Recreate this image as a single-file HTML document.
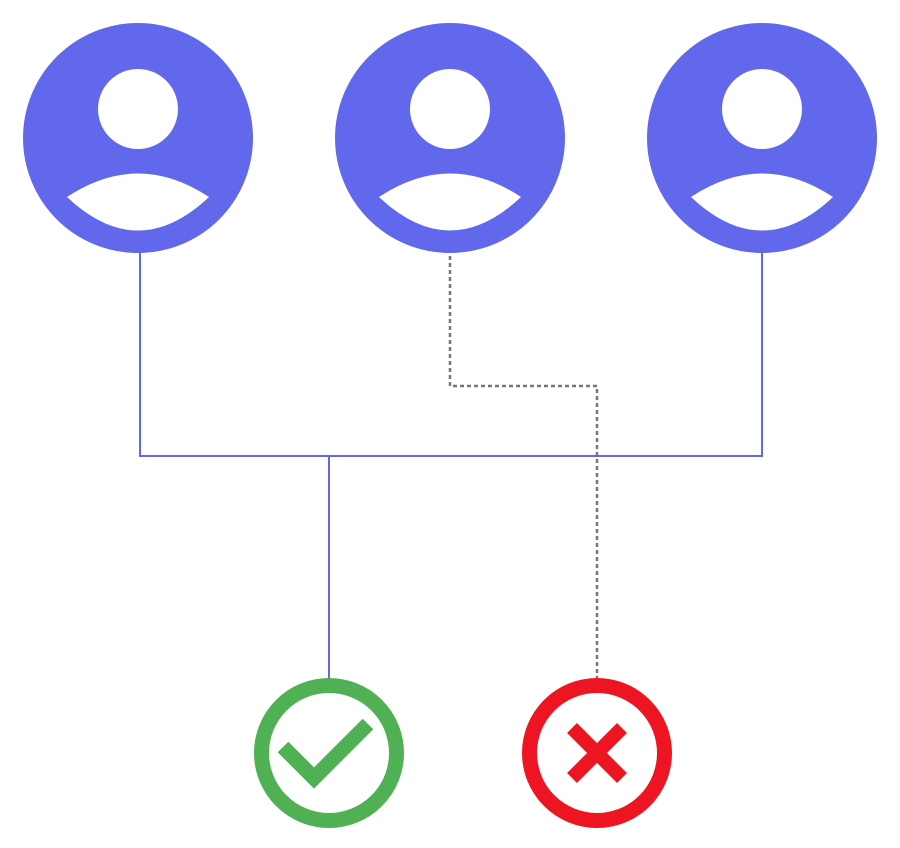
<!DOCTYPE html>
<html><head><meta charset="utf-8"><style>html,body{margin:0;padding:0;background:#fff}</style></head>
<body>
<svg width="900" height="843" viewBox="0 0 900 843" xmlns="http://www.w3.org/2000/svg">
<defs>
<g id="p">
<circle cx="0" cy="0" r="115" fill="#6268eb"/>
<circle cx="0" cy="-29" r="40" fill="#fff"/>
<path d="M-71,59 Q0,12 71,59 Q0,126 -71,59 Z" fill="#fff"/>
</g>
</defs>
<path d="M140,253 V456 H762 V253 M329,456 V680" fill="none" stroke="#6268eb" stroke-width="2"/>
<path d="M450,256 V386 H597 V680" fill="none" stroke="#777" stroke-width="2.5" stroke-dasharray="4,3"/>
<use href="#p" x="138" y="138"/>
<use href="#p" x="450" y="138"/>
<use href="#p" x="762" y="138"/>
<circle cx="329" cy="753" r="67.5" fill="none" stroke="#4fb153" stroke-width="15"/>
<path d="M283,747 L314,778 L368,724" fill="none" stroke="#4fb153" stroke-width="15"/>
<circle cx="597" cy="753" r="67.5" fill="none" stroke="#ee1522" stroke-width="15"/>
<path d="M572,728 L622,778 M622,728 L572,778" stroke="#ee1522" stroke-width="14"/>
</svg>
</body></html>
